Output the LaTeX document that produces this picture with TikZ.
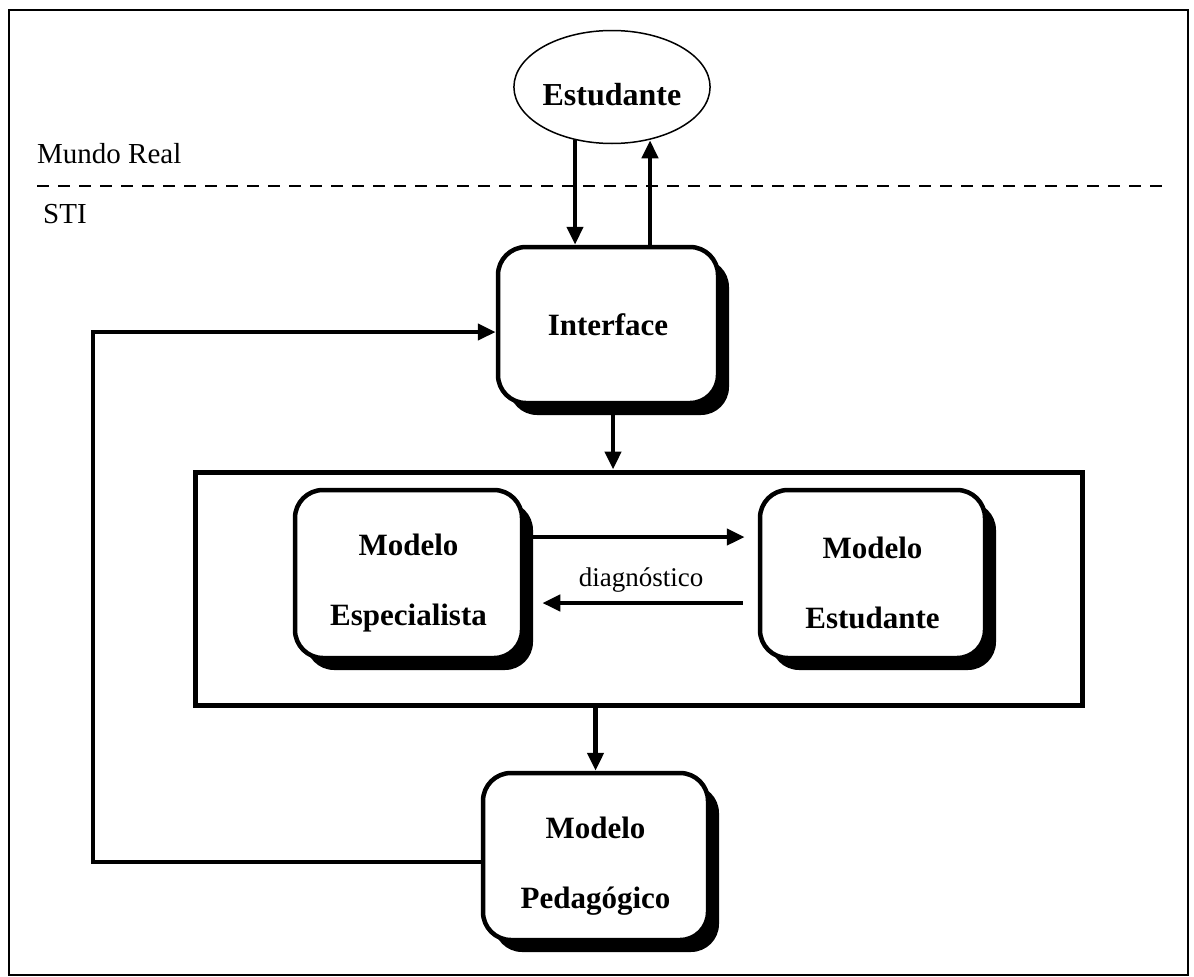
\documentclass[tikz,border=0pt]{standalone}
\usepackage{fontspec}
\setmainfont{Liberation Serif}
\usetikzlibrary{arrows.meta,shadows,shapes.geometric,calc}
\newcommand*{\duaslinhas}[2]{\rule{0pt}{40pt}#1\\#2}

\begin{document}
\begin{tikzpicture}[x=1pt, y=-1pt,
  modulo/.style={draw, line width=4.5pt, rounded corners=28pt, fill=white, align=center,
    inner sep=0pt, font=\bfseries\fontsize{31}{70}\selectfont,
    drop shadow={shadow xshift=11pt, shadow yshift=-12pt, opacity=1, fill=black}},
  seta/.style={line width=4.5pt, -{Triangle[length=18pt,width=16pt]}},
  rotulo/.style={font=\fontsize{29}{34}\selectfont, inner sep=0pt}]

\useasboundingbox (0,0) rectangle (1194,977);
\draw[line width=2pt] (9,10) rectangle (1188,975);

% fronteira mundo real / STI
\draw[line width=2.5pt, dash pattern=on 12pt off 9pt] (37,186) -- (1165,186);
\node[rotulo, anchor=base west] (real) at (37,163) {Mundo Real};
\node[rotulo, anchor=base west] (sti) at (43,223) {STI};

\node[draw, ellipse, line width=1.5pt, minimum width=185pt, minimum height=113pt, inner sep=0pt,
  text height=38pt, font=\bfseries\fontsize{32}{36}\selectfont] (aluno) at (612,87) {Estudante};

\node[modulo, minimum width=220pt, minimum height=156pt] (int) at (608,325) {Interface};

\node[draw, line width=5pt, minimum width=887pt, minimum height=233pt] (nucleo) at (638.5,588.5) {};
\node[modulo, minimum width=227pt, minimum height=168pt] (esp) at (408.5,574) {\duaslinhas{Modelo}{Especialista}};
\node[modulo, minimum width=225pt, minimum height=168pt] (mest) at (872.5,574) {\duaslinhas{Modelo}{Estudante}};

\node[modulo, minimum width=225pt, minimum height=167pt] (ped) at (595.5,856.5) {\duaslinhas{Modelo}{Pedagógico}};

\coordinate (desce) at (575,0);
\coordinate (sobe) at (650,0);
\draw[seta] ([yshift=4pt]aluno.south -| desce) -- (int.north -| desce);
\draw[seta] (int.north -| sobe) -- ([yshift=4pt]aluno.south -| sobe);

\draw[seta] ([xshift=5pt]int.south) -- ([xshift=5pt]int.south |- nucleo.north);

\draw[seta] ([xshift=8pt, yshift=37pt]esp.east) -- ([xshift=-13pt, yshift=37pt]mest.west);
\draw[seta] ([xshift=-15pt, yshift=-29pt]mest.west) -- ([xshift=18pt, yshift=-29pt]esp.east);
\node[rotulo, font=\fontsize{27}{32}\selectfont] (diag) at ($(esp.east)!0.5!(mest.west)+(0,6)$) {diagnóstico};

\draw[seta] (nucleo.south -| ped.north) -- (ped.north);

\coordinate (volta) at (93,862);
\coordinate (topo) at (93,332);
\draw[seta] (ped.west |- volta) -- (volta) -- (topo) -- (int.west |- topo);

\end{tikzpicture}
\end{document}
